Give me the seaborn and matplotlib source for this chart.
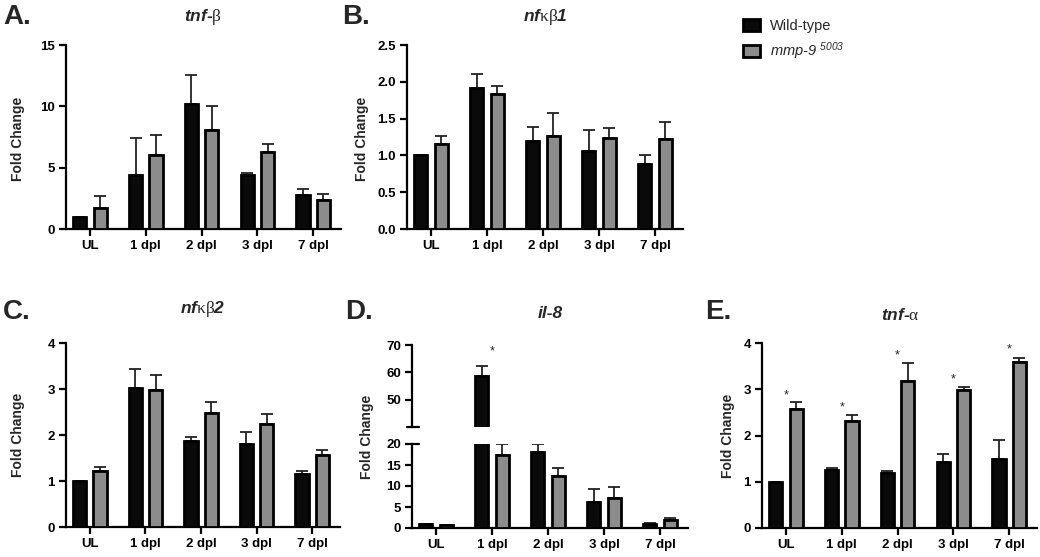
import numpy as np
import pandas as pd
import matplotlib
matplotlib.use("Agg")
import matplotlib.pyplot as plt
import matplotlib.transforms as mtrans
import seaborn as sns

sns.set_style("ticks")
plt.rcParams['font.family'] = ['Liberation Sans', 'DejaVu Sans']
plt.rcParams['mathtext.fontset'] = 'custom'
plt.rcParams['mathtext.rm'] = 'Liberation Serif'
plt.rcParams['mathtext.it'] = 'Liberation Sans:italic:bold'
plt.rcParams['mathtext.bf'] = 'Liberation Sans:bold'
plt.rcParams['mathtext.sf'] = 'Liberation Sans:italic'

# ---------------- data ----------------
categories = ['UL', '1 dpl', '2 dpl', '3 dpl', '7 dpl']
groups = ['Wild-type', 'mmp-9 5003']

# A. tnf-beta
a_wt = [1.0, 4.4, 10.15, 4.4, 2.75]
a_wt_top = [1.0, 7.4, 12.55, 4.55, 3.3]
a_mmp = [1.7, 6.05, 8.05, 6.3, 2.38]
a_mmp_top = [2.65, 7.7, 10.0, 6.95, 2.85]

# B. nfkb1
b_wt = [1.0, 1.92, 1.2, 1.06, 0.88]
b_wt_top = [1.0, 2.11, 1.39, 1.35, 1.0]
b_mmp = [1.15, 1.83, 1.27, 1.23, 1.22]
b_mmp_top = [1.27, 1.94, 1.58, 1.37, 1.45]

# C. nfkb2
c_wt = [1.0, 3.02, 1.88, 1.80, 1.16]
c_wt_top = [1.0, 3.44, 1.95, 2.06, 1.22]
c_mmp = [1.22, 2.98, 2.47, 2.23, 1.56]
c_mmp_top = [1.31, 3.31, 2.72, 2.46, 1.67]

# D. il-8
d_wt = [0.85, 58.8, 18.2, 6.1, 1.0]
d_wt_top = [0.9, 62.2, 19.9, 9.4, 1.3]
d_mmp = [0.7, 17.5, 12.5, 7.1, 2.0]
d_mmp_top = [0.8, 19.9, 14.4, 9.7, 2.3]
d_star_cat = ['1 dpl']
d_star_y = [67.5]

# E. tnf-alpha
e_wt = [1.0, 1.25, 1.19, 1.42, 1.49]
e_wt_top = [1.0, 1.3, 1.23, 1.6, 1.9]
e_mmp = [2.57, 2.32, 3.17, 2.98, 3.59]
e_mmp_top = [2.72, 2.45, 3.57, 3.04, 3.68]
e_star_y = [2.86, 2.61, 3.73, 3.22, 3.86]

W, H = 1040, 557
fig = plt.figure(figsize=(W / 100, H / 100), dpi=100)

def ax_px(l, r, t, b):
    return fig.add_axes([l / W, 1 - b / H, (r - l) / W, (b - t) / H])

palette = {groups[0]: '#0a0a0a', groups[1]: '#8c8c8c'}
TICKFS = 9.5

def draw(ax, wt, wt_top, mmp, mmp_top):
    df = pd.DataFrame({
        'Time': categories * 2,
        'Fold': list(wt) + list(mmp),
        'Group': [groups[0]] * 5 + [groups[1]] * 5,
    })
    sns.barplot(data=df, x='Time', y='Fold', hue='Group', order=categories,
                hue_order=groups, palette=palette, width=0.73, gap=0.35,
                edgecolor='black', linewidth=2.0, errorbar=None, legend=False,
                ax=ax, zorder=3)
    bars = ax.patches[:10]
    means = list(wt) + list(mmp)
    tops = list(wt_top) + list(mmp_top)
    xs = [p.get_x() + p.get_width() / 2 for p in bars]
    ax.errorbar(xs, means, yerr=[np.zeros(10), np.array(tops) - np.array(means)],
                fmt='none', ecolor='#222222', elinewidth=1.3, capsize=4,
                capthick=1.3, zorder=2)
    ax.set_xlabel('')
    ax.set_ylabel('')
    ax.set_xlim(-0.43, 4.5)
    for s in ['top', 'right']:
        ax.spines[s].set_visible(False)
    for s in ['left', 'bottom']:
        ax.spines[s].set_linewidth(1.6)
        ax.spines[s].set_color('black')
    ax.tick_params(axis='both', length=5, width=1.6, colors='black',
                   labelsize=TICKFS, pad=3)
    for lab in ax.get_xticklabels() + ax.get_yticklabels():
        lab.set_fontweight('bold')
    return bars

def ylabel(x, y):
    fig.text(x / W, 1 - y / H, 'Fold Change', rotation=90, ha='center',
             va='center', fontsize=10, fontweight='bold')

def title(x, y, s):
    fig.text(x / W, 1 - y / H, s, ha='center', va='center', fontsize=12.5,
             fontweight='bold', fontstyle='italic')

def letter(x, y, s):
    fig.text(x / W, 1 - y / H, s, ha='left', va='center', fontsize=20,
             fontweight='bold')

# A
axA = ax_px(66, 341, 45, 229)
barsA = draw(axA, a_wt, a_wt_top, a_mmp, a_mmp_top)
axA.set_ylim(0, 15)
axA.set_yticks([0, 5, 10, 15])
axA.set_yticklabels(['0', '5', '10', '15'], fontweight='bold')
ylabel(18, 139); title(203, 17, r'tnf-$\mathrm{\beta}$'); letter(3, 17, 'A.')

# B
axB = ax_px(407, 683, 45, 229)
draw(axB, b_wt, b_wt_top, b_mmp, b_mmp_top)
axB.set_ylim(0, 2.5)
axB.set_yticks([0, 0.5, 1.0, 1.5, 2.0, 2.5])
axB.set_yticklabels(['0.0', '0.5', '1.0', '1.5', '2.0', '2.5'], fontweight='bold')
ylabel(362, 139); title(545, 17, r'nf$\mathrm{\kappa\beta}$1'); letter(342, 17, 'B.')

# C
axC = ax_px(66, 340, 343, 527)
draw(axC, c_wt, c_wt_top, c_mmp, c_mmp_top)
axC.set_ylim(0, 4)
axC.set_yticks([0, 1, 2, 3, 4])
axC.set_yticklabels(['0', '1', '2', '3', '4'], fontweight='bold')
ylabel(18, 435); title(203, 309, r'nf$\mathrm{\kappa\beta}$2'); letter(3, 312, 'C.')

# D (broken axis)
axDt = ax_px(412, 688, 345, 427)
axDb = ax_px(412, 688, 444, 528)
draw(axDt, d_wt, d_wt_top, d_mmp, d_mmp_top)
draw(axDb, d_wt, d_wt_top, d_mmp, d_mmp_top)
axDt.set_ylim(40, 70)
axDt.set_yticks([50, 60, 70])
axDt.set_yticklabels(['50', '60', '70'], fontweight='bold')
axDt.spines['bottom'].set_visible(False)
axDt.tick_params(axis='x', bottom=False, labelbottom=False)
axDb.set_ylim(0, 20)
axDb.set_yticks([0, 5, 10, 15, 20])
axDb.set_yticklabels(['0', '5', '10', '15', '20'], fontweight='bold')
trt = mtrans.blended_transform_factory(axDt.transAxes, axDt.transData)
axDt.plot([-0.018, 0.025], [40, 40], color='black', lw=1.6, transform=trt,
          clip_on=False)
trb = mtrans.blended_transform_factory(axDb.transAxes, axDb.transData)
axDb.plot([0, 0.025], [20, 20], color='black', lw=1.6, transform=trb,
          clip_on=False)
for c, yv in zip(d_star_cat, d_star_y):
    axDt.text(categories.index(c), yv, '*', ha='center', va='center',
              fontsize=9)
ylabel(367, 437); title(550, 313, 'il-8'); letter(345, 312, 'D.')

# E
axE = ax_px(762, 1037, 343, 528)
draw(axE, e_wt, e_wt_top, e_mmp, e_mmp_top)
axE.set_ylim(0, 4)
axE.set_yticks([0, 1, 2, 3, 4])
axE.set_yticklabels(['0', '1', '2', '3', '4'], fontweight='bold')
for i, yv in enumerate(e_star_y):
    axE.text(i, yv, '*', ha='center', va='center', fontsize=9)
ylabel(728, 436); title(900, 315, r'tnf-$\mathrm{\alpha}$'); letter(705, 312, 'E.')

# legend
leg = fig.legend(handles=[barsA[0], barsA[5]],
                 labels=['Wild-type', r'mmp-9 $^{\mathsf{5003}}$'],
                 loc='upper left', bbox_to_anchor=(730 / W, 1 - 6 / H),
                 frameon=False, handlelength=1.15, handleheight=0.8,
                 handletextpad=0.7, labelspacing=0.5, fontsize=10.5)
leg.get_texts()[1].set_fontstyle('italic')

fig.savefig('out.png', dpi=100)
